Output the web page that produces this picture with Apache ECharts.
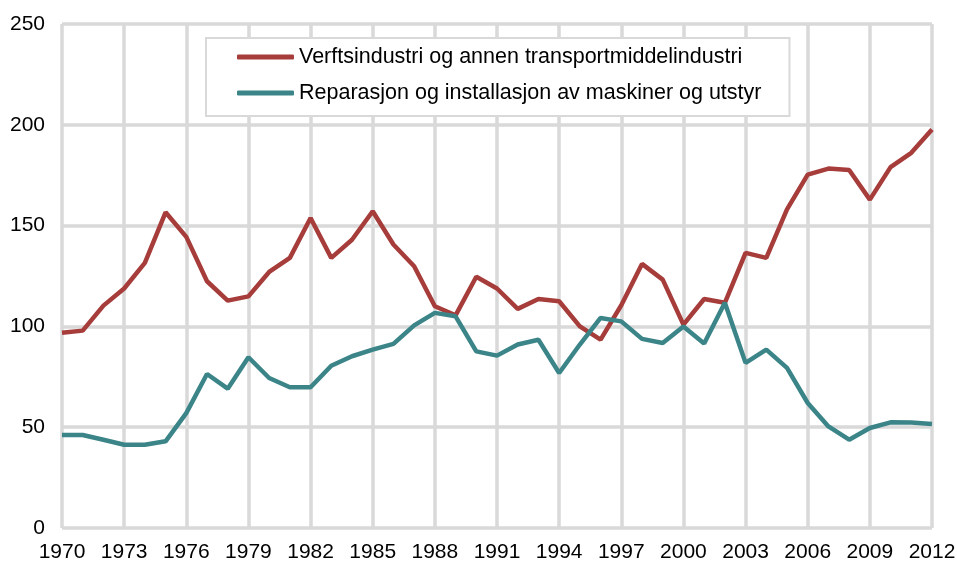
<!DOCTYPE html>
<html>
<head>
<meta charset="utf-8">
<script src="https://cdn.jsdelivr.net/npm/echarts@6/dist/echarts.min.js"></script>
<style>
  body { margin: 0; background: #fff; }
  #chart { width: 957px; height: 561px; }
</style>
</head>
<body>
<div id="chart"></div>
<script>
const years = ['1970','1971','1972','1973','1974','1975','1976','1977','1978','1979',
  '1980','1981','1982','1983','1984','1985','1986','1987','1988','1989',
  '1990','1991','1992','1993','1994','1995','1996','1997','1998','1999',
  '2000','2001','2002','2003','2004','2005','2006','2007','2008','2009',
  '2010','2011','2012']

const verft = [96.8, 97.9, 110.3, 118.8, 131.5, 156.6, 144.4, 122.4, 112.8, 114.9,
  127, 134, 153.8, 134, 143, 157.1, 140.6, 129.8, 110, 105.5,
  124.6, 118.8, 108.7, 113.6, 112.5, 100, 93.4, 110.5, 131, 123.2,
  100.9, 113.6, 111.7, 136.5, 134, 158, 175.3, 178.3, 177.6, 162.9,
  179, 186.1, 197.7]

const reparasjon = [46.1, 46.1, 43.8, 41.3, 41.3, 43, 57, 76.4, 69.1, 84.7,
  74.4, 69.8, 69.8, 80.5, 85.2, 88.5, 91.3, 100.5, 106.7, 105,
  87.6, 85.5, 91, 93.4, 76.9, 91, 104.2, 102.5, 93.8, 91.8,
  100, 91.5, 111.7, 81.9, 88.5, 79.4, 62, 50.4, 43.8, 49.6,
  52.4, 52.3, 51.6]

const seriesNames = ['Verftsindustri og annen transportmiddelindustri',
  'Reparasjon og installasjon av maskiner og utstyr']

const gridColor = '#d9d9d9'
const font = '"Liberation Sans", Arial, sans-serif'

let myChart = echarts.init(document.getElementById('chart'))
myChart.setOption({
  animation: false,
  grid: {
    left: 62,
    right: 25,
    top: 24,
    bottom: 33,
    outerBoundsMode: 'none',
  },
  legend: {
    orient: 'vertical',
    left: 206,
    top: 38,
    padding: [7, 28, 11, 31],
    borderColor: gridColor,
    borderWidth: 2,
    backgroundColor: '#fff',
    icon: 'roundRect',
    itemWidth: 57,
    itemHeight: 5,
    itemGap: 12,
    textStyle: {
      fontFamily: font,
      fontSize: 21.5,
      color: '#000',
      lineHeight: 24,
    },
    data: seriesNames,
  },
  xAxis: {
    type: 'category',
    boundaryGap: false,
    data: years,
    axisLine: { show: false },
    axisTick: { show: false },
    axisLabel: {
      interval: 2,
      margin: 14,
      color: '#000',
      fontFamily: font,
      fontSize: 21,
    },
    splitLine: {
      show: true,
      interval: 2,
      lineStyle: { color: gridColor, width: 3.5 },
    },
  },
  yAxis: {
    type: 'value',
    min: 0,
    max: 250,
    interval: 50,
    axisLine: { show: false },
    axisTick: { show: false },
    axisLabel: {
      margin: 17,
      color: '#000',
      fontFamily: font,
      fontSize: 21,
    },
    splitLine: {
      lineStyle: { color: gridColor, width: 3.5 },
    },
  },
  series: [
    {
      name: seriesNames[0],
      type: 'line',
      symbol: 'none',
      color: '#a63d3b',
      lineStyle: { width: 4.5, color: '#a63d3b' },
      data: verft,
    },
    {
      name: seriesNames[1],
      type: 'line',
      symbol: 'none',
      color: '#3b8589',
      lineStyle: { width: 4.5, color: '#3b8589' },
      data: reparasjon,
    },
  ],
})
</script>
</body>
</html>
